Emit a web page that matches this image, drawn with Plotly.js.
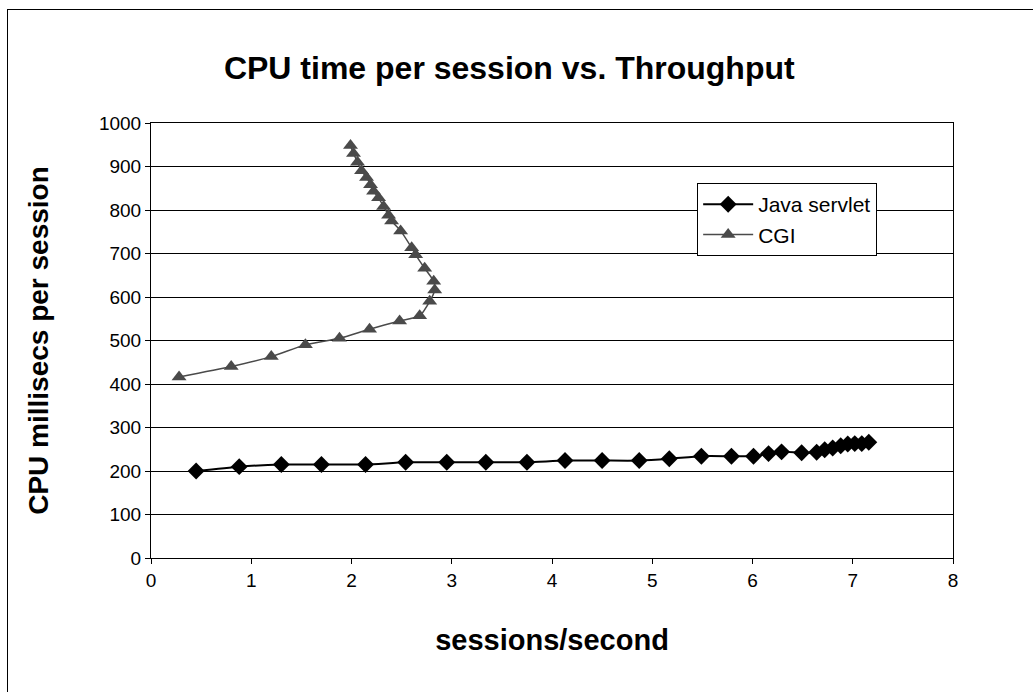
<!DOCTYPE html>
<html>
<head>
<meta charset="utf-8">
<script src="https://cdn.plot.ly/plotly-3.0.1.min.js"></script>
<style>
  html, body { margin: 0; padding: 0; background: #ffffff; }
  #chart { width: 1033px; height: 692px; position: relative; }
  #frame { position: absolute; left: 7px; top: 9px; width: 1040px; height: 700px; border: 1px solid #000; pointer-events: none; }
</style>
</head>
<body>
<div id="chart"></div>
<div id="frame"></div>
<script>
// Java servlet series
const javaX = [0.45, 0.88, 1.30, 1.70, 2.14, 2.54, 2.95, 3.34, 3.75, 4.13, 4.50, 4.87, 5.17, 5.49, 5.79, 6.01, 6.16, 6.29, 6.49, 6.64, 6.72, 6.80, 6.88, 6.95, 7.02, 7.09, 7.16];
const javaY = [200, 210, 215, 215, 215, 220, 220, 220, 220, 224, 224, 224, 228, 234, 234, 234, 240, 244, 242, 243, 249, 253, 258, 262, 263, 263, 266];

// CGI series
const cgiX = [0.28, 0.80, 1.20, 1.54, 1.88, 2.18, 2.48, 2.68, 2.78, 2.83, 2.82, 2.73, 2.64, 2.60, 2.49, 2.40, 2.37, 2.32, 2.27, 2.22, 2.19, 2.15, 2.10, 2.06, 2.02, 1.99];
const cgiY = [416, 440, 463, 490, 505, 526, 545, 557, 590, 616, 636, 666, 697, 713, 752, 775, 788, 808, 828, 843, 858, 875, 890, 910, 930, 948];

// Axis ticks
const xTicks = [0, 1, 2, 3, 4, 5, 6, 7, 8];
const yTicks = [0, 100, 200, 300, 400, 500, 600, 700, 800, 900, 1000];

const FONT = 'Arial, "Liberation Sans", sans-serif';

const traces = [
  {
    x: javaX, y: javaY, name: 'Java servlet', type: 'scatter', mode: 'lines+markers',
    line: { color: '#000000', width: 2, shape: 'spline', smoothing: 0.6 },
    marker: { symbol: 'diamond', size: 13, color: '#000000' }
  },
  {
    x: cgiX, y: cgiY, name: 'CGI', type: 'scatter', mode: 'lines+markers',
    line: { color: '#4a4a4a', width: 1.5, shape: 'spline', smoothing: 0.6 },
    marker: { symbol: 'triangle-up', size: 13, color: '#4a4a4a' }
  }
];

const layout = {
  width: 1033, height: 692,
  margin: { l: 151, r: 80, t: 123, b: 134 },
  paper_bgcolor: '#ffffff', plot_bgcolor: '#ffffff',
  font: { family: FONT, color: '#000000', size: 19 },
  title: {
    text: '<b>CPU time per session vs. Throughput</b>',
    font: { family: FONT, size: 32, color: '#000000' },
    x: 0.493, xref: 'container', xanchor: 'center',
    y: 0.902, yref: 'container', yanchor: 'middle'
  },
  xaxis: {
    range: [0, 8], tickvals: xTicks, ticktext: xTicks.map(String),
    showgrid: false, zeroline: false,
    showline: true, linecolor: '#000000', linewidth: 1, mirror: true,
    ticks: 'outside', ticklen: 5, tickcolor: '#000000',
    tickfont: { family: FONT, size: 19, color: '#000000' },
    title: { text: '<b>sessions/second</b>', font: { family: FONT, size: 29, color: '#000000' }, standoff: 39 },
    automargin: false
  },
  yaxis: {
    range: [0, 1000], tickvals: yTicks, ticktext: yTicks.map(String),
    showgrid: true, gridcolor: '#000000', gridwidth: 1, zeroline: false,
    showline: true, linecolor: '#000000', linewidth: 1, mirror: true,
    ticks: 'outside', ticklen: 5, tickcolor: '#000000',
    tickfont: { family: FONT, size: 19, color: '#000000' },
    title: { text: '<b>CPU millisecs per session</b>', font: { family: FONT, size: 28, color: '#000000' }, standoff: 42 },
    automargin: false
  },
  showlegend: true,
  legend: {
    x: 0.681, y: 0.862, xanchor: 'left', yanchor: 'top',
    bgcolor: '#ffffff', bordercolor: '#000000', borderwidth: 1,
    font: { family: FONT, size: 21, color: '#000000' },
    tracegroupgap: 8, itemwidth: 50
  }
};

Plotly.newPlot('chart', traces, layout, { displayModeBar: false, staticPlot: true });
</script>
</body>
</html>
